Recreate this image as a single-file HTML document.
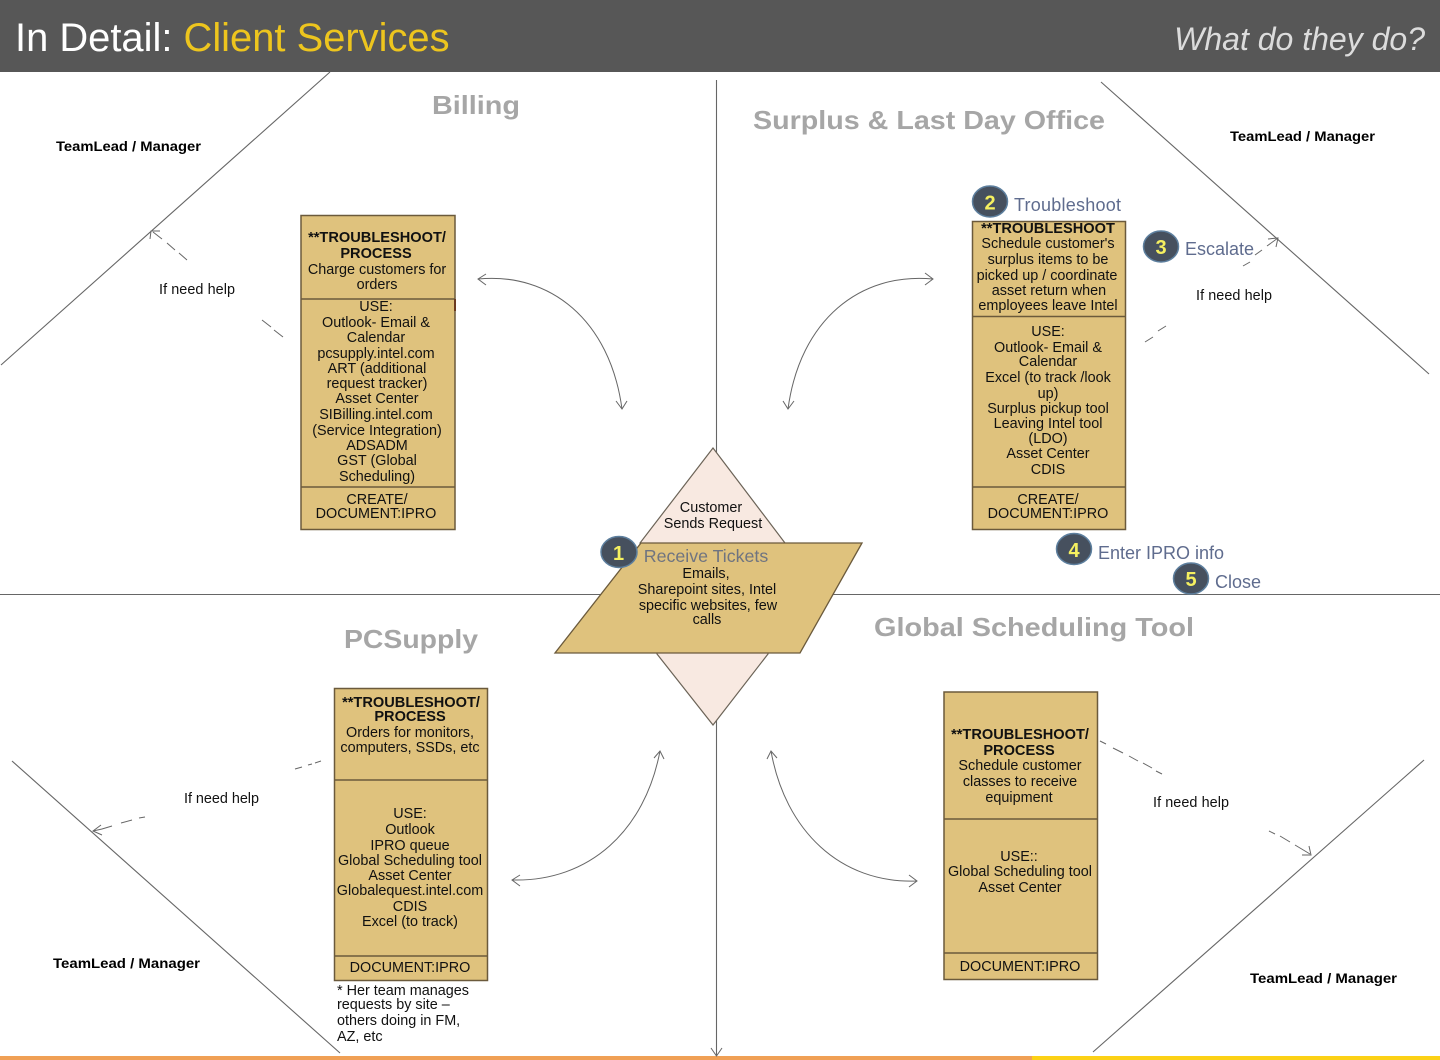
<!DOCTYPE html>
<html><head><meta charset="utf-8">
<style>
html,body{margin:0;padding:0;background:#fff}
svg{display:block}
text{font-family:"Liberation Sans",Arial,sans-serif}
.t{font-size:14.4px;fill:#111;text-anchor:middle}
.b{font-size:14.6px;fill:#111;text-anchor:middle;font-weight:bold}
.l{font-size:14.4px;fill:#111}
.m{font-size:14px;fill:#000;font-weight:bold}
.h{font-size:26px;fill:#a6a6a6;font-weight:bold}
.s{font-size:18px;fill:#5f6c8e}
.n{font-size:20px;font-weight:bold;fill:#f5f060;text-anchor:middle}
.ln{stroke:#666;stroke-width:1.1;fill:none}
.a{stroke:#666;stroke-width:1;fill:none}
.box{fill:#dfc27d;stroke:#6b5a3c;stroke-width:1.5}
.c{fill:#46505e;stroke:#5d7f9e;stroke-width:1.5}
</style></head><body>
<svg width="1440" height="1060" viewBox="0 0 1440 1060" xmlns="http://www.w3.org/2000/svg">
<rect width="1440" height="1060" fill="#fff"/>
<rect width="1440" height="72" fill="#575757"/>
<text x="15" y="51" font-size="39.900" fill="#fff">In Detail: <tspan fill="#edc51e">Client Services</tspan></text>
<text x="1425" y="50" font-size="32" font-style="italic" fill="#dcdcdc" text-anchor="end">What do they do?</text>
<rect x="0" y="1056" width="1032" height="4" fill="#f0a055"/>
<rect x="1032" y="1056" width="408" height="4" fill="#fcd116"/>

<!-- axes -->
<line class="ln" x1="716.5" y1="80" x2="716.5" y2="1055"/>
<line class="ln" x1="0" y1="594.5" x2="1440" y2="594.5"/>
<path class="a" d="M711 1048 L716.5 1056 L722 1048"/>
<!-- diagonals -->
<line class="ln" x1="330" y1="72" x2="1" y2="365"/>
<line class="ln" x1="1101" y1="82" x2="1429" y2="374"/>
<line class="ln" x1="12" y1="761" x2="340" y2="1053"/>
<line class="ln" x1="1424" y1="760" x2="1093" y2="1052"/>

<!-- center -->
<path d="M713 448 L785 543 L768 654 L713 725 L657 654 L640 543 Z" fill="#f8e9e1" stroke="#6b6357" stroke-width="1.2"/>
<path d="M641 543 L862 543 L800 653 L555 653 Z" fill="#dfc27d" stroke="#6b5a3c" stroke-width="1.3"/>
<text class="t" x="711" y="512">Customer</text>
<text class="t" x="713" y="528">Sends Request</text>
<text x="706" y="562" font-size="17.800" fill="#6f7480" text-anchor="middle">Receive Tickets</text>
<text class="t" x="706" y="578">Emails,</text>
<text class="t" x="707" y="594">Sharepoint sites, Intel</text>
<text class="t" x="708" y="610">specific websites, few</text>
<text class="t" x="707" y="624">calls</text>

<!-- headings -->
<text class="h" x="432" y="114" textLength="88" lengthAdjust="spacingAndGlyphs">Billing</text>
<text class="h" x="753" y="129" textLength="352" lengthAdjust="spacingAndGlyphs">Surplus &amp; Last Day Office</text>
<text class="h" x="344" y="648" textLength="134" lengthAdjust="spacingAndGlyphs">PCSupply</text>
<text class="h" x="874" y="636" textLength="320" lengthAdjust="spacingAndGlyphs">Global Scheduling Tool</text>

<text class="m" x="56" y="151" textLength="145" lengthAdjust="spacingAndGlyphs">TeamLead / Manager</text>
<text class="m" x="1230" y="141" textLength="145" lengthAdjust="spacingAndGlyphs">TeamLead / Manager</text>
<text class="m" x="53" y="968" textLength="147" lengthAdjust="spacingAndGlyphs">TeamLead / Manager</text>
<text class="m" x="1250" y="983" textLength="147" lengthAdjust="spacingAndGlyphs">TeamLead / Manager</text>

<text class="l" x="159" y="294" textLength="76">If need help</text>
<text class="l" x="1196" y="300" textLength="76">If need help</text>
<text class="l" x="184" y="803" textLength="75">If need help</text>
<text class="l" x="1153" y="807" textLength="76">If need help</text>

<!-- Billing box -->
<rect class="box" x="301" y="215.500" width="154" height="314"/>
<line class="box" x1="301" y1="299" x2="455" y2="299"/>
<line class="box" x1="301" y1="487" x2="455" y2="487"/>
<line x1="455" y1="299" x2="455" y2="311" stroke="#6b3a20" stroke-width="2"/>
<text class="b" x="377" y="242">**TROUBLESHOOT/</text>
<text class="b" x="376" y="258">PROCESS</text>
<text class="t" x="377" y="274">Charge customers for</text>
<text class="t" x="377" y="289">orders</text>
<text class="t" x="376" y="311">USE:</text>
<text class="t" x="376" y="327">Outlook- Email &amp;</text>
<text class="t" x="376" y="342">Calendar</text>
<text class="t" x="376" y="358">pcsupply.intel.com</text>
<text class="t" x="377" y="373">ART (additional</text>
<text class="t" x="377" y="388">request tracker)</text>
<text class="t" x="377" y="403">Asset Center</text>
<text class="t" x="376" y="419">SIBilling.intel.com</text>
<text class="t" x="377" y="435">(Service Integration)</text>
<text class="t" x="377" y="450">ADSADM</text>
<text class="t" x="377" y="465">GST (Global</text>
<text class="t" x="377" y="481">Scheduling)</text>
<text class="t" x="377" y="504">CREATE/</text>
<text class="t" x="376" y="518">DOCUMENT:IPRO</text>

<!-- Surplus box -->
<rect class="box" x="972.500" y="221.500" width="153" height="308"/>
<line class="box" x1="972" y1="316.500" x2="1126" y2="316.500"/>
<line class="box" x1="972" y1="487" x2="1126" y2="487"/>
<text class="b" x="1048" y="233">**TROUBLESHOOT</text>
<text class="t" x="1048" y="248">Schedule customer's</text>
<text class="t" x="1048" y="264">surplus items to be</text>
<text class="t" x="1047" y="280">picked up / coordinate</text>
<text class="t" x="1049" y="295">asset return when</text>
<text class="t" x="1048" y="310">employees leave Intel</text>
<text class="t" x="1048" y="336">USE:</text>
<text class="t" x="1048" y="352">Outlook- Email &amp;</text>
<text class="t" x="1048" y="366">Calendar</text>
<text class="t" x="1048" y="382">Excel (to track /look</text>
<text class="t" x="1048" y="398">up)</text>
<text class="t" x="1048" y="413">Surplus pickup tool</text>
<text class="t" x="1048" y="428">Leaving Intel tool</text>
<text class="t" x="1048" y="443">(LDO)</text>
<text class="t" x="1048" y="458">Asset Center</text>
<text class="t" x="1048" y="474">CDIS</text>
<text class="t" x="1048" y="504">CREATE/</text>
<text class="t" x="1048" y="518">DOCUMENT:IPRO</text>

<!-- PCSupply box -->
<rect class="box" x="334.500" y="688.500" width="153" height="292"/>
<line class="box" x1="334" y1="780" x2="488" y2="780"/>
<line class="box" x1="334" y1="956" x2="488" y2="956"/>
<text class="b" x="411" y="707">**TROUBLESHOOT/</text>
<text class="b" x="410" y="721">PROCESS</text>
<text class="t" x="410" y="737">Orders for monitors,</text>
<text class="t" x="410" y="752">computers, SSDs, etc</text>
<text class="t" x="410" y="818">USE:</text>
<text class="t" x="410" y="834">Outlook</text>
<text class="t" x="410" y="850">IPRO queue</text>
<text class="t" x="410" y="865">Global Scheduling tool</text>
<text class="t" x="410" y="880">Asset Center</text>
<text class="t" x="410" y="895">Globalequest.intel.com</text>
<text class="t" x="410" y="911">CDIS</text>
<text class="t" x="410" y="926">Excel (to track)</text>
<text class="t" x="410" y="972">DOCUMENT:IPRO</text>
<text class="l" x="337" y="995">* Her team manages</text>
<text class="l" x="337" y="1009">requests by site –</text>
<text class="l" x="337" y="1025">others doing in FM,</text>
<text class="l" x="337" y="1041">AZ, etc</text>

<!-- GST box -->
<rect class="box" x="944" y="692" width="153.500" height="287.500"/>
<line class="box" x1="944" y1="819" x2="1098" y2="819"/>
<line class="box" x1="944" y1="953" x2="1098" y2="953"/>
<text class="b" x="1020" y="739">**TROUBLESHOOT/</text>
<text class="b" x="1019" y="755">PROCESS</text>
<text class="t" x="1020" y="770">Schedule customer</text>
<text class="t" x="1020" y="786">classes to receive</text>
<text class="t" x="1019" y="802">equipment</text>
<text class="t" x="1019" y="861">USE::</text>
<text class="t" x="1020" y="876">Global Scheduling tool</text>
<text class="t" x="1020" y="892">Asset Center</text>
<text class="t" x="1020" y="971">DOCUMENT:IPRO</text>

<!-- curved arrows -->
<path class="a" d="M478 279 C550 272 610 320 622 409"/>
<path class="a" d="M486 274 L478 279 L486 285 M616 401 L622 409 L627 401"/>
<path class="a" d="M933 279 C860 272 800 320 788 409"/>
<path class="a" d="M925 273 L933 279 L925 285 M783 401 L788 409 L794 401"/>
<path class="a" d="M660 751 C645 830 590 882 512 880"/>
<path class="a" d="M654 758 L660 751 L664 759 M520 875 L512 880 L520 886"/>
<path class="a" d="M771 751 C785 830 840 884 917 881"/>
<path class="a" d="M767 759 L771 751 L777 758 M909 875 L917 881 L909 887"/>

<!-- dashed help arrows -->
<path class="a" d="M153 232 L162 239 M167 243 L175 250 M179 253 L187 260"/>
<path class="a" d="M150 239 L151 231 L160 231"/>
<path class="a" d="M262 320 L271 327 M274 330 L283 337"/>
<path class="a" d="M1145 342 L1153 337 M1158 331 L1166 326 M1243 266 L1250 262 M1255 255 L1262 250 M1267 246 L1278 238"/>
<path class="a" d="M1268 239 L1278 238 L1276 247"/>
<path class="a" d="M295 769 L302 767 M308 765 L312 764 M315 763 L321 761"/>
<path class="a" d="M145 817 L139 818 M132 820 L121 823 M112 826 L102 829 L93 831"/>
<path class="a" d="M101 825 L93 831 L102 835"/>
<path class="a" d="M1100 741 L1106 744 M1113 748 L1123 753 M1129 756 L1138 761 M1143 763 L1152 768 M1156 771 L1162 774"/>
<path class="a" d="M1269 831 L1275 834 M1280 836 L1290 842 M1295 845 L1310 854"/>
<path class="a" d="M1302 855 L1311 855 L1309 846"/>

<!-- numbered badges -->
<ellipse class="c" cx="619" cy="552" rx="18" ry="15.500"/>
<text class="n" x="618.500" y="560">1</text>
<ellipse class="c" cx="990" cy="201.500" rx="17.500" ry="15.500"/>
<text class="n" x="990" y="209.500">2</text>
<text class="s" x="1014" y="211" textLength="107">Troubleshoot</text>
<ellipse class="c" cx="1161" cy="246.500" rx="17.500" ry="15.500"/>
<text class="n" x="1161" y="254">3</text>
<text class="s" x="1185" y="255" textLength="69">Escalate</text>
<ellipse class="c" cx="1074" cy="549" rx="17.500" ry="15.500"/>
<text class="n" x="1074" y="557">4</text>
<text class="s" x="1098" y="559" textLength="126">Enter IPRO info</text>
<ellipse class="c" cx="1191" cy="578.500" rx="17.500" ry="15.500"/>
<text class="n" x="1191" y="586">5</text>
<text class="s" x="1215" y="588" textLength="46">Close</text>
</svg>
</body></html>
